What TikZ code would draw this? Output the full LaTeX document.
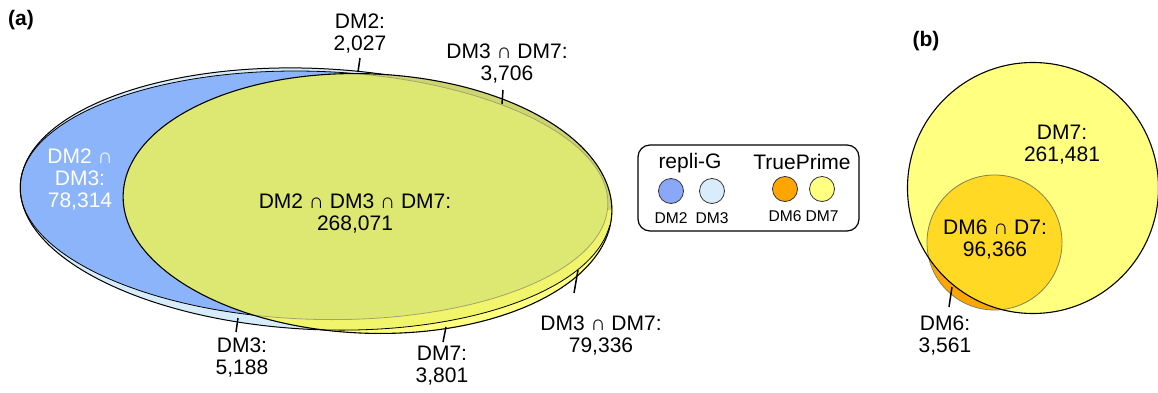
\documentclass[tikz,border=0pt]{standalone}
\usepackage{fontspec}
\setmainfont{Liberation Sans}
\definecolor{cBlue}{HTML}{8CB4FA}
\definecolor{cLight}{HTML}{D6ECFB}
\definecolor{cYel}{HTML}{FFFF80}
\definecolor{cBright}{HTML}{F0F56C}
\definecolor{cDark}{HTML}{CDD470}
\definecolor{cOlive}{HTML}{DDE873}
\definecolor{cGrey}{HTML}{A4A468}
\definecolor{cOrange}{HTML}{FFA500}
\definecolor{cGold}{HTML}{FFD924}
\definecolor{cLegBlue}{HTML}{8AA8F8}
\definecolor{cLegLight}{HTML}{D8ECFC}
\newcommand\pDMii{(314,195.3) ellipse [x radius=294, y radius=124]}
\newcommand\pDMiii{(316,199) ellipse [x radius=296, y radius=130.5]}
\newcommand\pDMvii{(367.5,203.5) ellipse [x radius=244.5, y radius=129.7]}
\begin{document}
\begin{tikzpicture}[x=0.5pt,y=-0.5pt,
  eA/.style={rotate around={-1.84:(314,195.3)}},
  eB/.style={rotate around={-2.7:(316,199)}},
  eC/.style={rotate around={-2.2:(367.5,203.5)}},
  lbl/.style={font=\fontsize{10.5}{11}\selectfont, align=center, inner sep=0pt},
  hd/.style={font=\bfseries\fontsize{10.5}{11}\selectfont, inner sep=0pt},
  small/.style={font=\fontsize{7.8}{8}\selectfont, inner sep=0pt},
  tick/.style={line width=0.75pt},
  legdot/.style={circle, draw=black!80, line width=0.4pt, minimum size=12.5pt, inner sep=0pt}]
\useasboundingbox (0,0) rectangle (1158,392);
% ---------- (a) ----------
\fill[cLight, eB] \pDMiii;
\fill[cBlue, eA] \pDMii;
\draw[line width=0.5pt, eB] \pDMiii;
\draw[line width=0.4pt, eA] \pDMii;
\fill[cYel, eC] \pDMvii;
\begin{scope}
  \clip[eC] \pDMvii;
  \fill[cBright, eB] \pDMiii;
  \fill[cDark] (0,0) rectangle (700,210);
  \fill[cOlive, eA] \pDMii;
  \draw[cGrey, line width=0.4pt, eA] \pDMii;
  \begin{scope}
    \clip (0,225) rectangle (700,392);
    \draw[line width=0.4pt, eB] \pDMiii;
  \end{scope}
\end{scope}
\draw[line width=0.55pt, eC] \pDMvii;

\node[hd] (la) at (21,20) {(a)};
\node[lbl] (n2) at (360,34) {DM2:\\2,027};
\node[lbl] (n37t) at (507,64) {DM3 ∩ DM7:\\3,706};
\node[lbl, text=white] (n23) at (80,180) {DM2 ∩\\DM3:\\78,314};
\node[lbl] (n237) at (355,214) {DM2 ∩ DM3 ∩ DM7:\\268,071};
\node[lbl] (n3) at (242,358) {DM3:\\5,188};
\node[lbl] (n7) at (442,366) {DM7:\\3,801};
\node[lbl] (n37b) at (601,336) {DM3 ∩ DM7:\\79,336};

\coordinate (t2a) at (360,58);  \coordinate (t2b) at (358,72);
\coordinate (t37a) at (503,90); \coordinate (t37b) at (502,104);
\coordinate (t3a) at (238,318); \coordinate (t3b) at (236,332);
\coordinate (t7a) at (446,327); \coordinate (t7b) at (443,342);
\coordinate (t37c) at (578,270); \coordinate (t37d) at (574,293);
\draw[tick] (t2a) -- (t2b);
\draw[tick] (t37a) -- (t37b);
\draw[tick] (t3a) -- (t3b);
\draw[tick] (t7a) -- (t7b);
\draw[tick] (t37c) -- (t37d);

% ---------- legend ----------
\node[draw, line width=0.6pt, rounded corners=6pt, minimum width=110.5pt, minimum height=43pt, inner sep=0pt] (leg) at (748.5,188) {};
\node[lbl] (lrg) at (690,163) {repli-G};
\node[lbl] (ltp) at (802,162) {TruePrime};
\node[legdot, fill=cLegBlue] (d2) at (671,191) {};
\node[legdot, fill=cLegLight] (d3) at (712,191) {};
\node[legdot, fill=cOrange] (d6) at (785,189) {};
\node[legdot, fill=cYel] (d7) at (822,189) {};
\node[small] (ld2) at (671,218) {DM2};
\node[small] (ld3) at (712,218) {DM3};
\node[small] (ld6) at (785,216) {DM6};
\node[small] (ld7) at (822,216) {DM7};

% ---------- (b) ----------
\fill[cYel] (1033,188) circle [radius=125.5];
\fill[cOrange] (994.5,242.5) circle [radius=67.5];
\begin{scope}
  \clip (1033,188) circle [radius=125.5];
  \fill[cGold] (994.5,242.5) circle [radius=67.5];
\end{scope}
\draw[cGrey!80!black, line width=0.4pt] (994.5,242.5) circle [radius=67.5];
\draw[line width=0.55pt] (1033,188) circle [radius=125.5];

\node[hd] (lb) at (926,41) {(b)};
\node[lbl] (m7) at (1062,145) {DM7:\\261,481};
\node[lbl] (m67) at (995,240) {DM6 ∩ D7:\\96,366};
\node[lbl] (m6) at (945,336) {DM6:\\3,561};
\coordinate (t6a) at (952,287); \coordinate (t6b) at (949,307);
\draw[tick] (t6a) -- (t6b);
\end{tikzpicture}
\end{document}
